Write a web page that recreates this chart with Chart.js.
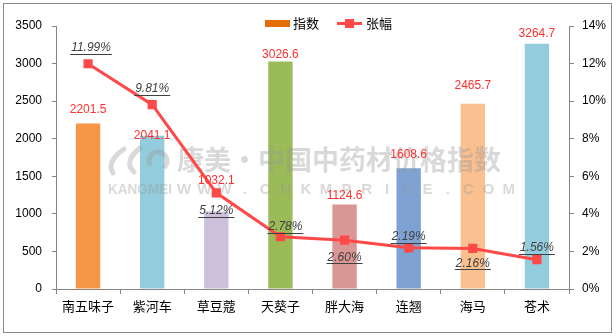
<!DOCTYPE html>
<html>
<head>
<meta charset="utf-8">
<script src="https://cdn.jsdelivr.net/npm/chart.js@4/dist/chart.umd.min.js"></script>
<style>
  html, body { margin: 0; padding: 0; background: #fff; }
  canvas { display: block; }
</style>
</head>
<body>
<canvas id="c" width="616" height="336"></canvas>
<script>
// Herb price index and its change, by herb
const categories = ['南五味子', '紫河车', '草豆蔻', '天葵子', '胖大海', '连翘', '海马', '苍术'];
const indexValues = [2201.5, 2041.1, 1032.1, 3026.6, 1124.6, 1608.6, 2465.7, 3264.7];
const changeValues = [11.99, 9.81, 5.12, 2.78, 2.60, 2.19, 2.16, 1.56];
const leftTicks = [0, 500, 1000, 1500, 2000, 2500, 3000, 3500];
const rightTicks = [0, 2, 4, 6, 8, 10, 12, 14];

// styling
const barColors = ['#F79646', '#93CDDD', '#CCC1DA', '#9BBB59', '#D99694', '#7FA2D3', '#FAC090', '#93CDDD'];
const lineColor = '#FF4848';
const axisColor = '#868686';
// label placement: lift of bar value labels above bar tops, and
// vertical shift of change labels relative to their points
const barLabelLift = [14, 0, 31, 7, 9, 13, 18, 10];
const lineLabelShift = [-16, -16, 18, -10, 17, -11, 15, -12];
const lineLabelNudgeX = [3, 0, 0, 5, 0, 0, 0, 0];

const numFont = '12px "Liberation Sans", Arial, sans-serif';
const cjkFont = '"Noto Sans CJK SC", sans-serif';

function drawWatermark(ctx) {
  ctx.save();
  const wm = 'rgba(150,150,150,0.36)';
  ctx.fillStyle = wm;
  ctx.strokeStyle = wm;
  ctx.lineWidth = 5;
  ctx.lineCap = 'round';
  ctx.beginPath();
  ctx.moveTo(124, 149); ctx.quadraticCurveTo(106, 162, 113, 173);
  ctx.stroke();
  ctx.beginPath();
  ctx.moveTo(140, 148); ctx.quadraticCurveTo(123, 162, 134, 172);
  ctx.stroke();
  ctx.beginPath();
  ctx.arc(158, 161, 9, Math.PI * 0.9, Math.PI * 2.2);
  ctx.stroke();
  ctx.font = 'bold 27px ' + cjkFont;
  ctx.textBaseline = 'middle';
  ctx.textAlign = 'left';
  ctx.fillText('康美·中国中药材价格指数', 177, 160);
  ctx.font = 'bold 15px "Liberation Sans", Arial, sans-serif';
  ctx.fillText('KANGMEI', 108, 190, 64);
  const site = 'WWW.CNKMPRICE.COM';
  ctx.textAlign = 'center';
  for (let i = 0; i < site.length; i++) {
    ctx.fillText(site[i], 184 + i * 20.3, 190);
  }
  ctx.restore();
}

const decorations = {
  id: 'decorations',
  afterDatasetDraw(chart, args) {
    // site watermark sits over the bars but under the line
    if (args.index === 0) drawWatermark(chart.ctx);
  },
  afterDatasetsDraw(chart) {
    const ctx = chart.ctx;
    ctx.save();
    // bar value labels
    const barMeta = chart.getDatasetMeta(0);
    ctx.font = numFont;
    ctx.fillStyle = '#FF3030';
    ctx.textAlign = 'center';
    ctx.textBaseline = 'middle';
    barMeta.data.forEach((bar, i) => {
      ctx.fillText(indexValues[i].toFixed(1), bar.x, bar.y - barLabelLift[i]);
    });
    // change labels, italic and underlined
    const lineMeta = chart.getDatasetMeta(1);
    ctx.font = 'italic ' + numFont;
    ctx.fillStyle = '#404040';
    ctx.strokeStyle = '#404040';
    ctx.lineWidth = 1;
    lineMeta.data.forEach((pt, i) => {
      const txt = changeValues[i].toFixed(2) + '%';
      const cx = pt.x + lineLabelNudgeX[i];
      const cy = pt.y + lineLabelShift[i];
      ctx.fillText(txt, cx, cy);
      const w = ctx.measureText(txt).width;
      const uy = Math.round(cy + 6) + 0.5;
      ctx.beginPath();
      ctx.moveTo(cx - w / 2 - 1, uy);
      ctx.lineTo(cx + w / 2 + 1, uy);
      ctx.stroke();
    });
    ctx.restore();
  },
  afterDraw(chart) {
    const ctx = chart.ctx;
    ctx.save();
    // legend
    ctx.fillStyle = '#E46C0A';
    ctx.fillRect(265, 20, 25, 7);
    ctx.font = '13px ' + cjkFont;
    ctx.fillStyle = '#000';
    ctx.textAlign = 'left';
    ctx.textBaseline = 'middle';
    ctx.fillText('指数', 293, 23);
    ctx.strokeStyle = lineColor;
    ctx.lineWidth = 3;
    ctx.beginPath();
    ctx.moveTo(337, 23.5); ctx.lineTo(362, 23.5);
    ctx.stroke();
    ctx.fillStyle = lineColor;
    ctx.fillRect(345, 19, 9, 9);
    ctx.fillStyle = '#000';
    ctx.fillText('张幅', 366, 23);
    // outer frame
    ctx.strokeStyle = '#8C8C8C';
    ctx.lineWidth = 1;
    ctx.strokeRect(3.5, 3.5, 608, 329);
    ctx.restore();
  }
};

new Chart(document.getElementById('c'), {
  type: 'bar',
  data: {
    labels: categories,
    datasets: [
      {
        type: 'bar',
        label: '指数',
        data: indexValues,
        backgroundColor: barColors,
        borderWidth: 0,
        barPercentage: 0.38,
        categoryPercentage: 1,
        yAxisID: 'y',
        order: 2
      },
      {
        type: 'line',
        label: '张幅',
        data: changeValues,
        borderColor: lineColor,
        backgroundColor: lineColor,
        borderWidth: 3,
        pointStyle: 'rect',
        pointRadius: 6.5,
        pointBorderWidth: 0,
        tension: 0,
        yAxisID: 'y1',
        order: 1
      }
    ]
  },
  options: {
    responsive: false,
    animation: false,
    events: [],
    layout: { padding: { top: 26, left: 0, right: 0, bottom: 0 } },
    plugins: { legend: { display: false }, tooltip: { enabled: false } },
    scales: {
      x: {
        grid: { display: true, drawOnChartArea: false, drawTicks: true, tickLength: 5, color: axisColor, offset: true },
        border: { display: true, color: axisColor },
        ticks: { font: { family: 'Noto Sans CJK SC', size: 13 }, color: '#000', padding: 4, maxRotation: 0 },
        afterFit(s) { s.height = 47; }
      },
      y: {
        position: 'left',
        min: 0,
        max: 3500,
        afterBuildTicks(s) { s.ticks = leftTicks.map(v => ({ value: v })); },
        grid: { display: true, drawOnChartArea: false, drawTicks: true, tickLength: 4, color: axisColor },
        border: { display: true, color: axisColor },
        ticks: { font: { family: 'Liberation Sans', size: 12 }, color: '#000', padding: 10, callback: v => String(v) },
        afterFit(s) { s.width = 56; }
      },
      y1: {
        position: 'right',
        min: 0,
        max: 14,
        afterBuildTicks(s) { s.ticks = rightTicks.map(v => ({ value: v })); },
        grid: { display: true, drawOnChartArea: false, drawTicks: true, tickLength: 5, color: axisColor },
        border: { display: true, color: axisColor },
        ticks: { font: { family: 'Liberation Sans', size: 12 }, color: '#000', padding: 8, callback: v => v + '%' },
        afterFit(s) { s.width = 47; }
      }
    }
  },
  plugins: [decorations]
});
</script>
</body>
</html>
